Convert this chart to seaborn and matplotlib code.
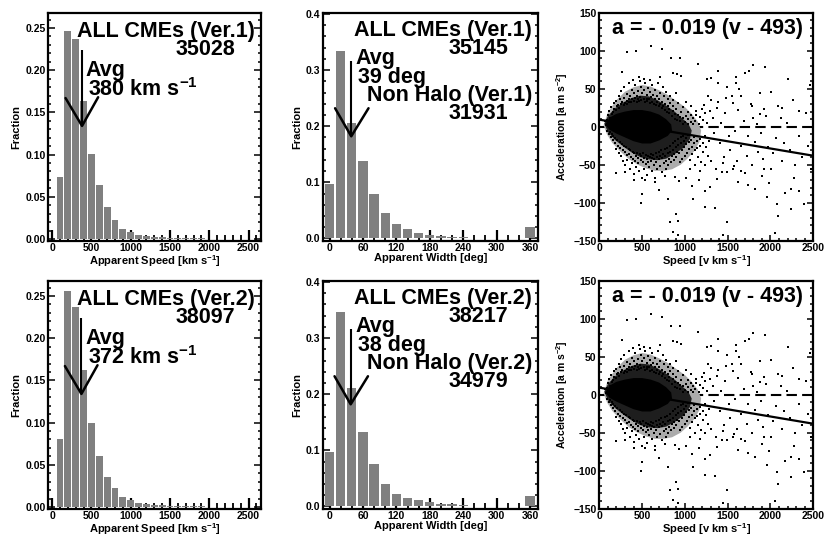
import pandas as pd
import seaborn as sns
import matplotlib
matplotlib.use("Agg")
from matplotlib import pyplot as plt
from matplotlib.ticker import MultipleLocator, FormatStrFormatter

# ---- histogram data (fraction per bin) ----
speed_bins = [100, 200, 300, 400, 500, 600, 700, 800, 900, 1000,
              1100, 1200, 1300, 1400, 1500, 1600, 1700, 1800, 1900, 2000]
speed_frac_v1 = [0.074, 0.247, 0.237, 0.164, 0.101, 0.064, 0.038, 0.023, 0.012, 0.008,
                 0.005, 0.0035, 0.0028, 0.002, 0.0016, 0.0012, 0.001, 0.0008, 0.0006, 0.0005]
speed_frac_v2 = [0.080, 0.256, 0.237, 0.162, 0.099, 0.061, 0.036, 0.022, 0.012, 0.008,
                 0.005, 0.003, 0.0025, 0.002, 0.0015, 0.0012, 0.001, 0.0008, 0.0006, 0.0005]

width_bins = [0, 20, 40, 60, 80, 100, 120, 140, 160, 180,
              200, 220, 240, 260, 280, 300, 320, 340, 360]
width_frac_v1 = [0.097, 0.334, 0.205, 0.138, 0.079, 0.045, 0.026, 0.016, 0.0095, 0.006,
                 0.004, 0.003, 0.002, 0.0015, 0.0012, 0.001, 0.001, 0.001, 0.021]
width_frac_v2 = [0.097, 0.346, 0.211, 0.132, 0.075, 0.040, 0.023, 0.015, 0.011, 0.007,
                 0.005, 0.0035, 0.002, 0.0015, 0.0012, 0.001, 0.001, 0.001, 0.0185]

speed_avg = [380, 372]
width_avg = [39, 38]
speed_counts = ["35028", "38097"]
width_counts = ["35145", "38217"]
nonhalo_counts = ["31931", "34979"]
versions = ["Ver.1", "Ver.2"]

# ---- acceleration vs speed (estimated from the figure) ----
fit_slope = -0.019
fit_v0 = 493

# outlines of the point cloud density zones (sparse, dense, saturated)
outer_v = [50, 100, 200, 300, 400, 500, 600, 700, 800, 900, 1000, 1080, 1150, 1190,
           1170, 1110, 1030, 950, 850, 750, 650, 550, 450, 350, 250, 150, 90, 50]
outer_a = [2, 19, 35, 46, 52, 55, 53, 48, 42, 34, 26, 17, 7, -5,
           -20, -32, -42, -50, -56, -58, -58, -55, -50, -43, -33, -21, -10, 2]
mid_v = [60, 100, 180, 280, 380, 480, 580, 680, 780, 880, 960, 1040, 1080,
         1060, 980, 880, 780, 680, 580, 480, 380, 280, 180, 100, 60]
mid_a = [4, 14, 24, 32, 38, 41, 40, 35, 28, 20, 12, 4, -5,
         -16, -28, -36, -42, -44, -43, -40, -34, -26, -17, -7, 4]
core_v = [70, 120, 200, 300, 400, 500, 600, 700, 780, 840,
          850, 800, 700, 600, 500, 400, 300, 200, 120, 70]
core_a = [3, 12, 17, 20, 22, 22, 20, 16, 10, 3,
          -5, -12, -18, -22, -22, -19, -14, -9, -4, 3]

halo_upper = [
    (104, 15), (117, 21), (126, 12), (139, 26), (143, 17), (161, 19), (167, 31), (172, 24),
    (194, 22), (198, 34), (205, 27), (223, 29), (229, 41), (234, 25), (241, 36), (257, 30),
    (259, 47), (266, 33), (283, 29), (287, 38), (294, 52), (299, 31), (318, 34), (321, 43),
    (326, 30), (344, 36), (347, 58), (351, 32), (358, 41), (374, 33), (379, 49), (382, 37),
    (391, 62), (403, 34), (408, 44), (414, 38), (419, 55), (437, 33), (439, 40), (452, 36),
    (455, 47), (463, 34), (468, 66), (481, 39), (489, 52), (493, 35), (499, 44), (522, 36),
    (527, 48), (529, 33), (538, 58), (553, 37), (556, 42), (562, 34), (571, 51), (584, 36),
    (589, 46), (597, 31), (601, 39), (615, 33), (619, 55), (624, 42), (643, 30), (646, 36),
    (651, 49), (663, 29), (672, 41), (677, 33), (681, 58), (697, 27), (702, 37), (706, 30),
    (713, 45), (731, 25), (735, 33), (741, 52), (748, 28), (752, 40), (768, 22), (771, 30),
    (776, 46), (791, 20), (797, 27), (799, 37), (812, 18), (819, 24), (824, 41), (829, 31),
    (851, 14), (856, 21), (858, 28), (862, 35), (884, 10), (887, 17), (891, 24), (894, 45),
    (912, 9), (917, 15), (921, 31), (944, 7), (947, 13), (951, 20), (973, 4), (978, 11),
    (981, 26), (1004, 6), (1009, 14), (1012, 33), (1033, 3), (1038, 10), (1041, 19),
    (1066, 6), (1071, 16), (1073, 28), (1094, 4), (1099, 12), (1124, 8), (1131, 21),
    (1168, 3), (1174, 13), (1213, 9), (1232, 18), (1262, 5), (66, 7), (79, 2), (88, 9),
]

halo_lower = [
    (96, -5), (108, -9), (121, -7), (133, -13), (146, -10), (159, -17), (165, -12), (182, -15),
    (188, -22), (196, -29), (211, -17), (218, -25), (226, -35), (239, -20), (243, -28),
    (254, -39), (261, -23), (272, -31), (278, -45), (288, -25), (296, -33), (303, -51),
    (314, -27), (319, -37), (327, -44), (343, -29), (349, -36), (356, -55), (364, -31),
    (372, -40), (377, -48), (389, -33), (396, -42), (404, -62), (411, -35), (418, -45),
    (426, -38), (434, -53), (444, -34), (451, -41), (457, -48), (465, -58), (478, -36),
    (484, -44), (491, -39), (497, -67), (508, -35), (513, -46), (521, -41), (528, -55),
    (541, -37), (544, -49), (552, -42), (559, -63), (568, -38), (573, -47), (582, -53),
    (588, -40), (599, -36), (604, -45), (611, -58), (618, -41), (631, -37), (638, -50),
    (642, -43), (649, -68), (661, -35), (667, -47), (674, -40), (679, -56), (692, -33),
    (699, -43), (705, -52), (711, -38), (724, -31), (731, -41), (736, -60), (744, -36),
    (753, -48), (762, -29), (767, -39), (774, -45), (781, -55), (794, -28), (799, -35),
    (806, -50), (813, -42), (826, -25), (831, -33), (837, -47), (845, -39), (857, -22),
    (862, -30), (869, -44), (874, -36), (889, -19), (893, -27), (901, -40), (906, -33),
    (918, -16), (924, -24), (931, -35), (938, -47), (949, -14), (955, -21), (961, -30),
    (968, -42), (979, -12), (986, -19), (991, -27), (998, -38), (1011, -15), (1017, -23),
    (1024, -34), (1042, -11), (1048, -20), (1053, -29), (1061, -44), (1073, -17), (1079, -26),
    (1087, -36), (1104, -14), (1109, -22), (1118, -31), (1136, -19), (1142, -28), (1149, -40),
    (1171, -16), (1177, -25), (1184, -47), (1207, -21), (1214, -33), (1239, -12), (1247, -27),
    (1268, -38), (1283, -19),
]

outlier_pts = [
    (610, 107), (728, 102), (320, 98), (430, 100), (837, 90), (942, 90), (1157, 83), (1800, 81),
    (1935, 79), (269, 72), (864, 71), (911, 70), (950, 67), (710, 65), (1385, 74), (1700, 71),
    (1750, 73), (1600, 66), (1260, 63), (1300, 64), (470, 60), (520, 63), (590, 61), (1390, 58),
    (1495, 53), (1595, 58), (1635, 50), (1480, 38), (1875, 45), (2010, 46), (2200, 63), (2335, 21),
    (2140, 25), (2120, 11), (1920, 24), (1875, 17), (1780, 27), (1795, 12), (1660, 40), (1560, 31),
    (1385, 33), (1310, 35), (1225, 29), (1205, 23), (1135, 15), (1290, 21), (2460, 55),
    (490, -100), (900, -115), (830, -126), (915, -124), (865, -139), (915, -143), (1440, -143),
    (1490, -125), (2050, -140), (2080, -102), (2090, -117), (2240, -108), (2395, -102),
    (2165, -87), (2330, -84), (2235, -82), (2275, -67), (1980, -74), (1900, -65), (1820, -82),
    (1740, -77), (1620, -73), (1700, -61), (1560, -55), (1435, -60), (1370, -69), (1295, -79),
    (1230, -84), (1160, -70), (1085, -78), (1010, -67), (930, -72), (890, -66), (770, -65),
    (650, -73), (530, -70), (410, -70), (300, -60), (200, -61), (495, -88), (1230, -106),
    (1350, -107), (1960, -92), (2005, -55), (1925, -55), (800, -95), (700, -83), (1100, -95),
    (1270, 40), (1330, 12), (1345, -8), (1380, 25), (1410, -22), (1425, 5), (1460, -40),
    (1470, 18), (1515, -12), (1530, -30), (1545, 40), (1580, -5), (1610, -45), (1625, 22),
    (1660, -25), (1690, 8), (1720, -38), (1735, -12), (1770, 30), (1785, -50), (1815, -20),
    (1840, 4), (1860, -33), (1890, -8), (1915, -42), (1945, 14), (1970, -27), (2025, -35),
    (2060, -15), (2090, 28), (2130, -45), (2160, -22), (2190, 5), (2230, -30), (2260, 35),
    (2290, -50), (2330, -12), (2370, -40), (2410, 18), (2440, -25), (2475, -55), (1300, -45),
    (1360, -55), (1440, -48), (1495, -60), (1575, -52), (1650, -58), (1240, -50), (1180, -58),
    (1120, -50), (1060, -55),
]

# ---- style ----
sns.set_style("ticks")
plt.rcParams["font.family"] = ["Liberation Sans", "DejaVu Sans"]
plt.rcParams["font.weight"] = "bold"
plt.rcParams["axes.labelweight"] = "bold"
plt.rcParams["text.color"] = "black"
plt.rcParams["axes.labelcolor"] = "black"
plt.rcParams["xtick.color"] = "black"
plt.rcParams["ytick.color"] = "black"
plt.rcParams["mathtext.fontset"] = "custom"
plt.rcParams["mathtext.rm"] = "Liberation Sans:bold"
plt.rcParams["mathtext.it"] = "Liberation Sans:bold"
plt.rcParams["mathtext.bf"] = "Liberation Sans:bold"
plt.rcParams["mathtext.default"] = "rm"

BIG = 15.5
TICK = 7.5
LAB = 8
GREY = "#808080"

fig = plt.figure(figsize=(8.25, 5.36), dpi=100)
rows_y = [0.551, 0.051]
cols_x = [0.0585, 0.392, 0.7264]
ax_w = [0.258, 0.2606, 0.2594]
ax_h = 0.425


def frame(ax):
    for s in ax.spines.values():
        s.set_linewidth(1.6)
        s.set_color("black")
    ax.tick_params(which="both", direction="in", top=False, right=True,
                   colors="black", labelsize=TICK, width=1.1, pad=2)


def hist_panel(ax, centers, fracs, binw, shrink):
    df = pd.DataFrame({"x": centers, "w": fracs})
    edges = [c - binw / 2 for c in centers] + [centers[-1] + binw / 2]
    sns.histplot(data=df, x="x", weights="w", bins=edges, shrink=shrink,
                 color=GREY, edgecolor="none", alpha=1, ax=ax)
    ax.set_ylabel("Fraction", fontsize=LAB, labelpad=3)


for r in range(2):
    ver = versions[r]

    # speed histogram
    ax = fig.add_axes([cols_x[0], rows_y[r], ax_w[0], ax_h])
    hist_panel(ax, speed_bins, [speed_frac_v1, speed_frac_v2][r], 100, 0.88)
    frame(ax)
    ax.set_xlim(-50, 2660)
    ax.set_ylim(-0.002, 0.268)
    ax.xaxis.set_major_locator(MultipleLocator(500))
    ax.xaxis.set_minor_locator(MultipleLocator(100))
    ax.yaxis.set_major_locator(MultipleLocator(0.05))
    ax.yaxis.set_minor_locator(MultipleLocator(0.01))
    ax.yaxis.set_major_formatter(FormatStrFormatter("%.2f"))
    ax.tick_params(axis="x", which="major", length=8, width=1.6)
    ax.tick_params(axis="x", which="minor", length=4, width=1.3)
    ax.tick_params(axis="y", which="major", length=5)
    ax.tick_params(axis="y", which="minor", length=2.5)
    ax.set_xlabel(r"Apparent Speed [km s$^{-1}$]", fontsize=LAB, labelpad=0)
    ax.text(0.972, 0.893, f"ALL CMEs ({ver})", transform=ax.transAxes,
            ha="right", va="baseline", fontsize=BIG)
    ax.text(0.878, 0.814, speed_counts[r], transform=ax.transAxes,
            ha="right", va="baseline", fontsize=BIG)
    ax.text(0.1725, 0.725, "Avg", transform=ax.transAxes,
            ha="left", va="baseline", fontsize=BIG)
    ax.text(0.187, 0.635, f"{speed_avg[r]} km s$^{{-1}}$", transform=ax.transAxes,
            ha="left", va="baseline", fontsize=BIG)
    m = speed_avg[r]
    ax.plot([m, m], [0.224, 0.134], color="black", lw=1.5, solid_capstyle="butt")
    ax.plot([m - 210, m, m + 205], [0.167, 0.134, 0.168], color="black", lw=1.8)

    # width histogram
    ax = fig.add_axes([cols_x[1], rows_y[r], ax_w[1], ax_h])
    hist_panel(ax, width_bins, [width_frac_v1, width_frac_v2][r], 20, 0.83)
    frame(ax)
    ax.set_xlim(-11, 375)
    ax.set_ylim(-0.004, 0.402)
    ax.xaxis.set_major_locator(MultipleLocator(60))
    ax.xaxis.set_minor_locator(MultipleLocator(20))
    ax.yaxis.set_major_locator(MultipleLocator(0.1))
    ax.yaxis.set_minor_locator(MultipleLocator(0.02))
    ax.yaxis.set_major_formatter(FormatStrFormatter("%.1f"))
    ax.tick_params(axis="x", which="major", length=8, width=1.6)
    ax.tick_params(axis="x", which="minor", length=4, width=1.3)
    ax.tick_params(axis="y", which="major", length=5)
    ax.tick_params(axis="y", which="minor", length=2.5)
    ax.set_xlabel("Apparent Width [deg]", fontsize=LAB, labelpad=0)
    ax.text(0.969, 0.900, f"ALL CMEs ({ver})", transform=ax.transAxes,
            ha="right", va="baseline", fontsize=BIG)
    ax.text(0.859, 0.819, width_counts[r], transform=ax.transAxes,
            ha="right", va="baseline", fontsize=BIG)
    ax.text(0.147, 0.775, "Avg", transform=ax.transAxes,
            ha="left", va="baseline", fontsize=BIG)
    ax.text(0.161, 0.691, f"{width_avg[r]} deg", transform=ax.transAxes,
            ha="left", va="baseline", fontsize=BIG)
    ax.text(0.971, 0.614, f"Non Halo ({ver})", transform=ax.transAxes,
            ha="right", va="baseline", fontsize=BIG)
    ax.text(0.859, 0.532, nonhalo_counts[r], transform=ax.transAxes,
            ha="right", va="baseline", fontsize=BIG)
    m = width_avg[r]
    ax.plot([m, m], [0.317, 0.182], color="black", lw=1.5, solid_capstyle="butt")
    ax.plot([m - 29, m, m + 31], [0.232, 0.182, 0.232], color="black", lw=1.8)

    # acceleration vs speed
    ax = fig.add_axes([cols_x[2], rows_y[r], ax_w[2], ax_h])
    frame(ax)
    pts = pd.DataFrame(halo_upper + halo_lower + outlier_pts, columns=["v", "a"])
    ax.fill(outer_v, outer_a, color="#ababab", lw=0, zorder=2)
    ax.fill(mid_v, mid_a, color="#1e1e1e", lw=0, zorder=2)
    ax.fill(core_v, core_a, color="black", lw=0, zorder=2)
    sns.scatterplot(data=pts, x="v", y="a", s=0.9, marker="s", color="black",
                    linewidth=0, ax=ax, zorder=3)
    fit_v = [0, 2500]
    fit_a = [fit_slope * (v - fit_v0) for v in fit_v]
    sns.lineplot(x=fit_v, y=fit_a, color="black", lw=1.6, ax=ax, zorder=4)
    ax.axhline(0, color="black", lw=1.5, dashes=(5, 2.5), zorder=1)
    ax.set_xlim(0, 2500)
    ax.set_ylim(-150, 150)
    ax.xaxis.set_major_locator(MultipleLocator(500))
    ax.xaxis.set_minor_locator(MultipleLocator(100))
    ax.yaxis.set_major_locator(MultipleLocator(50))
    ax.yaxis.set_minor_locator(MultipleLocator(10))
    ax.tick_params(which="major", length=4)
    ax.tick_params(which="minor", length=2)
    ax.set_xlabel(r"Speed [v km s$^{-1}$]", fontsize=LAB, labelpad=0)
    ax.set_ylabel(r"Acceleration [a m s$^{-2}$]", fontsize=7.5, labelpad=2)
    ax.text(0.506, 0.908, f"a = - {abs(fit_slope):.3f} (v - {fit_v0})",
            transform=ax.transAxes, ha="center", va="baseline", fontsize=BIG)

fig.savefig("out.png", dpi=100)
